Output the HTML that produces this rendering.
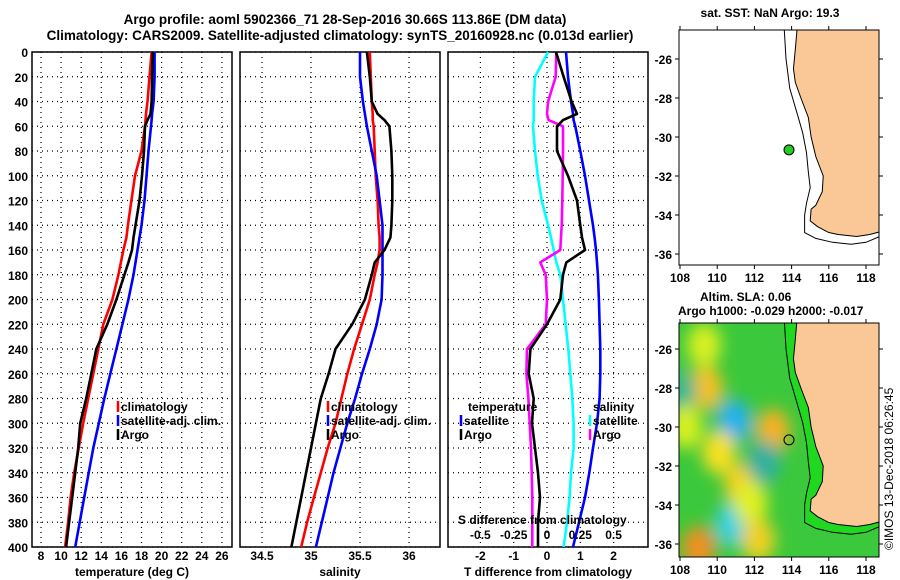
<!DOCTYPE html>
<html><head><meta charset="utf-8">
<style>
body{margin:0;background:#fff;}
svg{display:block;font-family:"Liberation Sans",sans-serif;font-weight:bold;}
text{fill:#000;}
</style></head>
<body>
<svg id="c" width="900" height="580" viewBox="0 0 900 580">
<text x="345" y="24" font-size="13.5" text-anchor="middle">Argo profile: aoml 5902366_71 28-Sep-2016 30.66S 113.86E (DM data)</text>
<text x="340" y="40" font-size="13.5" text-anchor="middle">Climatology: CARS2009. Satellite-adjusted climatology: synTS_20160928.nc (0.013d earlier)</text>
<g id="plots"></g>
<text x="770" y="17" font-size="12" text-anchor="middle">sat. SST: NaN Argo: 19.3</text>
<text x="700" y="301" font-size="12">Altim. SLA: 0.06</text>
<text x="678" y="315" font-size="12">Argo h1000: -0.029 h2000: -0.017</text>
<text x="0" y="0" font-size="12" font-weight="normal" transform="translate(893,550) rotate(-90)">©IMOS 13-Dec-2018 06:26:45</text>
</svg>
<script>
// ---- data ----
const depths = [0,20,40,50,55,60,80,100,120,140,150,160,170,180,200,220,240,260,280,300,320,340,360,380,400];
const tempClim = [19.0,18.8,18.6,18.45,18.4,18.35,18.0,17.35,17.0,16.65,16.5,16.2,15.95,15.7,15.1,14.2,13.7,13.2,12.7,12.2,11.75,11.3,10.95,10.7,10.4];
const tempSat  = [19.3,19.3,19.2,19.05,19.0,18.95,18.7,18.5,18.3,18.0,17.8,17.6,17.4,17.2,16.7,16.1,15.5,14.9,14.3,13.75,13.2,12.75,12.3,11.85,11.4];
const tempArgo = [19.1,19.05,19.0,18.9,18.6,18.35,18.25,18.05,17.8,17.4,17.2,17.05,16.7,16.3,15.5,14.6,13.5,13.0,12.5,11.9,11.7,11.4,11.1,10.8,10.5];
const salClim = [35.6,35.61,35.62,35.63,35.63,35.64,35.65,35.66,35.68,35.69,35.7,35.7,35.68,35.65,35.6,35.52,35.44,35.37,35.31,35.25,35.17,35.1,35.03,34.96,34.9];
const salSat  = [35.5,35.5,35.53,35.55,35.56,35.57,35.62,35.67,35.7,35.73,35.73,35.73,35.73,35.73,35.72,35.67,35.6,35.52,35.45,35.37,35.3,35.23,35.17,35.11,35.05];
const salArgo = [35.57,35.6,35.62,35.68,35.75,35.8,35.82,35.83,35.83,35.82,35.81,35.75,35.65,35.62,35.55,35.42,35.25,35.18,35.1,35.05,35.0,34.95,34.9,34.85,34.8];
const tDiffSat  = [0.57,0.63,0.72,0.78,0.8,0.85,1.0,1.14,1.26,1.38,1.43,1.47,1.5,1.53,1.56,1.58,1.6,1.6,1.58,1.5,1.38,1.27,1.14,0.96,0.78];
const tDiffArgo = [0.27,0.5,0.74,0.9,0.48,0.3,0.3,0.63,0.9,1.0,1.05,1.14,0.58,0.48,0.4,0.0,-0.5,-0.55,-0.4,-0.45,-0.36,-0.27,-0.21,-0.27,-0.27];
const sDiffSat  = [0.008,-0.09,-0.1,-0.1,-0.1,-0.105,-0.09,-0.07,-0.04,0.008,0.03,0.05,0.07,0.1,0.12,0.14,0.16,0.175,0.19,0.2,0.2,0.18,0.17,0.15,0.125];
const sDiffArgo = [0.07,0.065,0.008,0.0,0.012,0.12,0.12,0.118,0.115,0.11,0.105,0.1,-0.05,-0.01,0.0,-0.01,-0.15,-0.155,-0.14,-0.13,-0.12,-0.115,-0.11,-0.11,-0.11];
const depthTicks = [0,20,40,60,80,100,120,140,160,180,200,220,240,260,280,300,320,340,360,380,400];
const tempTicks = [8,10,12,14,16,18,20,22,24,26];
const salTicks = [34.5,35,35.5,36];
const salTickLabels = ["34.5","35","35.5","36"];
const tdTicks = [-2,-1,0,1,2];
const sdTicks = [-0.5,-0.25,0,0.25,0.5];
const sdTickLabels = ["-0.5","-0.25","0","0.25","0.5"];
const lonTicks = [108,110,112,114,116,118];
const latTicks = [-26,-28,-30,-32,-34,-36];
const coastLon = [114.3,114.2,114.1,114.2,114.5,114.9,115.05,115.3,115.7,115.65,115.3,115.05,115.0,115.4,116.0,116.5,117.5,118.2,119.0,119.5,120];
const coastLat = [-24.4,-25.5,-26.5,-27.2,-28.0,-29.0,-30.0,-31.0,-32.0,-32.8,-33.5,-33.7,-34.3,-34.6,-34.9,-35.0,-35.1,-35.0,-34.8,-34.5,-34.3];
const isoLon = [113.6,113.7,113.9,114.3,114.6,114.8,114.9,115.0,114.8,114.7,114.7,115.3,116.2,117.2,118.0,119.0,120];
const isoLat = [-24.4,-26.0,-27.5,-28.8,-29.8,-30.8,-31.8,-32.6,-33.4,-34.0,-34.9,-35.2,-35.4,-35.5,-35.4,-35.0,-34.8];
const floatLon = 113.86, floatLat = -30.66;
const blobLon = [109.4,110.9,113.0,110.1,111.3,110.8,109.0,108.0,112.5,109.3,108.3,111.8,112.2];
const blobLat = [-28.0,-29.7,-30.2,-31.3,-33.0,-35.0,-36.2,-28.2,-31.8,-25.8,-30.0,-33.9,-35.8];
const blobCol = ["#f8c020","#20b0f0","#f8b020","#f8e020","#f8d020","#30d0e0","#f09020","#30b890","#30b0a0","#d8f020","#d8f020","#e0f020","#f0d020"];

// ---- helpers ----
const NS="http://www.w3.org/2000/svg";
const root=document.getElementById('plots');
function mk(tag,attrs,parent){const e=document.createElementNS(NS,tag);for(const k in attrs)e.setAttribute(k,attrs[k]);(parent||root).appendChild(e);return e;}
function txt(x,y,s,attrs,parent){const e=mk('text',Object.assign({x:x,y:y,'font-size':12},attrs||{}),parent);e.textContent=s;return e;}
const Y0=52,YS=1.2375;
const yD=d=>Y0+d*YS;

function panel(x0,xf,ticks,labels,xlabel,name,showY){
  const g=mk('g',{});
  
  
  ticks.forEach(t=>{const x=xf(t);mk('line',{x1:x,y1:Y0,x2:x,y2:yD(400),stroke:'#000','stroke-dasharray':'1,4','stroke-width':1.2},g);});
  depthTicks.forEach(d=>{const y=yD(d);mk('line',{x1:x0,y1:y,x2:x0+200,y2:y,stroke:'#000','stroke-dasharray':'1,4','stroke-width':1.2},g);
    if(showY){const l=txt(28,y+5,String(d),{'text-anchor':'end'},g);}});
  mk('rect',{x:x0,y:Y0,width:200,height:yD(400)-Y0,fill:'none',stroke:'#000','stroke-width':1.5},g);
  ticks.forEach((t,i)=>{const l=txt(xf(t),560,labels[i],{'text-anchor':'middle'},g);});
  const xl=txt(x0+100,576,xlabel,{'text-anchor':'middle'},g);
  
  
  return g;
}
function series(g,xf,vals,color,name){
  const pts=vals.map((v,i)=>xf(v).toFixed(1)+','+yD(depths[i]).toFixed(1)).join(' ');
  const p=mk('polyline',{points:pts,fill:'none',stroke:color,'stroke-width':2.6,'stroke-linejoin':'round'},g);
  
  
}
function legend(g,x,y,color,label,name,anchor){
  if(color){const m=mk('line',{x1:x,y1:y-10,x2:x,y2:y+1,stroke:color,'stroke-width':2.5},g);}
  const t=txt(anchor==='end'?x-3:x+3,y,label,{},g);
  
  
}

// panel 1
const xT=t=>41+(t-8)*10.05;
const g1=panel(32,xT,tempTicks,tempTicks.map(String),'temperature (deg C)','temperature-panel',true);
series(g1,xT,tempClim,'#ff0000','temp-climatology-line');
series(g1,xT,tempSat,'#0000ff','temp-satellite-line');
series(g1,xT,tempArgo,'#000000','temp-argo-line');
legend(g1,118,411,'#ff0000','climatology','legend-climatology');
legend(g1,118,425,'#0000ff','satellite-adj. clim.','legend-satellite');
legend(g1,118,439,'#000000','Argo','legend-argo');

// panel 2
const xS=s=>311+(s-35)*98;
const g2=panel(240,xS,salTicks,salTickLabels,'salinity','salinity-panel',false);
series(g2,xS,salClim,'#ff0000','sal-climatology-line');
series(g2,xS,salSat,'#0000ff','sal-satellite-line');
series(g2,xS,salArgo,'#000000','sal-argo-line');
legend(g2,328,411,'#ff0000','climatology','legend-climatology-2');
legend(g2,328,425,'#0000ff','satellite-adj. clim.','legend-satellite-2');
legend(g2,328,439,'#000000','Argo','legend-argo-2');

// panel 3
const xTD=t=>547+t*33.3;
const xSD=s=>547+s*4*33.3;
const g3=panel(448,xTD,tdTicks,tdTicks.map(String),'T difference from climatology','difference-panel',false);
series(g3,xSD,sDiffSat,'#00ffff','sdiff-satellite-line');
series(g3,xSD,sDiffArgo,'#ff00ff','sdiff-argo-line');
series(g3,xTD,tDiffSat,'#0000ff','tdiff-satellite-line');
series(g3,xTD,tDiffArgo,'#000000','tdiff-argo-line');
legend(g3,465,411,null,'temperature','legend-temperature-header');
legend(g3,461,425,'#0000ff','satellite','legend-t-satellite');
legend(g3,461,439,'#000000','Argo','legend-t-argo');
legend(g3,590,411,null,'salinity','legend-salinity-header');
legend(g3,590,425,'#00ffff','satellite','legend-s-satellite');
legend(g3,590,439,'#ff00ff','Argo','legend-s-argo');
txt(458,524,'S difference from climatology',{},g3);
sdTicks.forEach((s,i)=>txt(xSD(s),539,sdTickLabels[i],{'text-anchor':'middle'},g3));

// maps
function map(y0,y1,latRef,yRef,name,colored){
  const X0=679,X1=879;
  const lx=l=>680+(l-108)*18.6, ly=l=>yRef+(latRef-l)*19.5;
  const g=mk('g',{});
  
  
  const cid='clip'+name;
  const cp=mk('clipPath',{id:cid},g);mk('rect',{x:X0,y:y0,width:X1-X0,height:y1-y0},cp);
  const inner=mk('g',{'clip-path':'url(#'+cid+')'},g);
  if(colored){
    const defs=mk('defs',{},g);
    const f=mk('filter',{id:'blur'+name,x:'-50%',y:'-50%',width:'200%',height:'200%'},defs);
    mk('feGaussianBlur',{stdDeviation:8},f);
    mk('rect',{x:X0,y:y0,width:X1-X0,height:y1-y0,fill:'#3cc83c'},inner);
    const bg=mk('g',{filter:'url(#blur'+name+')'},inner);
    blobLon.forEach((lo,i)=>{const c=mk('ellipse',{cx:lx(lo),cy:ly(blobLat[i]),rx:17,ry:22,fill:blobCol[i]},bg);
      
      });
    const shelf=isoLon.map((l,i)=>lx(l)+','+ly(isoLat[i])).join(' ')+' '+coastLon.slice().reverse().map((l,i)=>lx(l)+','+ly(coastLat[coastLat.length-1-i])).join(' ');
    mk('polygon',{points:shelf,fill:'#20d820'},inner);
  } else {
    mk('rect',{x:X0,y:y0,width:X1-X0,height:y1-y0,fill:'#fff'},inner);
  }
  const land=coastLon.map((l,i)=>lx(l)+','+ly(coastLat[i])).join(' ')+' '+lx(121)+','+ly(-34.3)+' '+lx(121)+','+ly(-20)+' '+lx(114.3)+','+ly(-20);
  const lp=mk('polygon',{points:land,fill:'#fac896',stroke:'#000','stroke-width':1},inner);
  
  
  const iso=isoLon.map((l,i)=>lx(l)+','+ly(isoLat[i])).join(' ');
  mk('polyline',{points:iso,fill:'none',stroke:'#000','stroke-width':1},inner);
  const fp=mk('circle',{cx:lx(floatLon),cy:ly(floatLat),r:5,fill:colored?'none':'#22cc22',stroke:'#000','stroke-width':1},inner);
  
  
  mk('rect',{x:X0,y:y0,width:X1-X0,height:y1-y0,fill:'none',stroke:'#000','stroke-width':1},g);
  lonTicks.forEach(l=>{mk('line',{x1:lx(l),y1:y1,x2:lx(l),y2:y1+4,stroke:'#000'},g);mk('line',{x1:lx(l),y1:y0,x2:lx(l),y2:y0-4,stroke:'#000'},g);txt(lx(l),y1+17,String(l),{'text-anchor':'middle'},g);});
  latTicks.forEach(l=>{mk('line',{x1:X0,y1:ly(l),x2:X0-4,y2:ly(l),stroke:'#000'},g);mk('line',{x1:X1,y1:ly(l),x2:X1+4,y2:ly(l),stroke:'#000'},g);txt(672,ly(l)+5,String(l),{'text-anchor':'end'},g);});
}
map(30,265,-26,59,'sst-map',false);
map(323,557,-26,349,'sla-map',true);
</script>
</body></html>
